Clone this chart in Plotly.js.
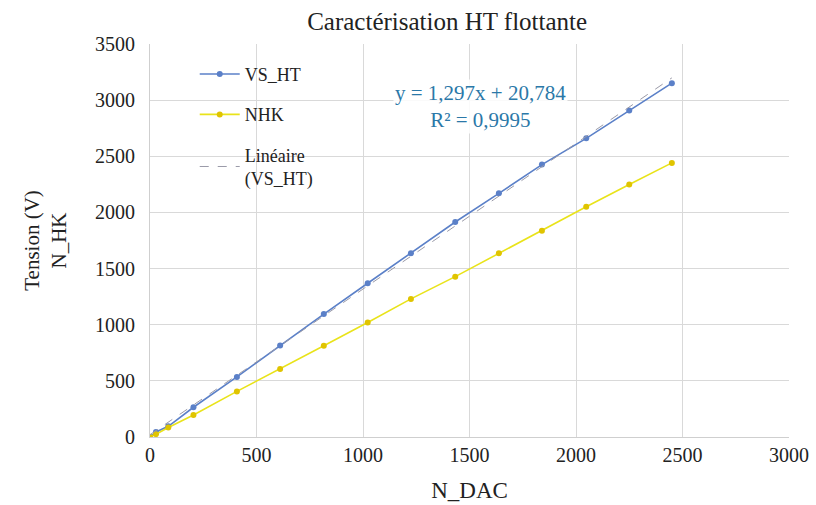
<!DOCTYPE html>
<html>
<head>
<meta charset="utf-8">
<script src="https://cdn.plot.ly/plotly-3.0.1.min.js"></script>
<style>html,body{margin:0;padding:0;background:#fff;}#chart{width:816px;height:505px;}</style>
</head>
<body>
<div id="chart"></div>
<script>
// Data
const nDac   = [0, 28, 86, 204, 408, 611, 816, 1022, 1225, 1433, 1638, 1840, 2048, 2250, 2450];
const vsHT   = [0, 45, 95, 265, 535, 815, 1095, 1369, 1636, 1915, 2170, 2426, 2660, 2908, 3151];
const nhk    = [0, 25, 85, 196, 406, 606, 812, 1019, 1230, 1428, 1636, 1837, 2050, 2249, 2441];
const trendSlope = 1.297;
const trendIntercept = 20.784;
const trendLabel = ["y = 1,297x + 20,784", "R² = 0,9995"];
const xTicks = [0, 500, 1000, 1500, 2000, 2500, 3000];
const yTicks = [0, 500, 1000, 1500, 2000, 2500, 3000, 3500];

const trendX = [nDac[0], nDac[nDac.length - 1]];
const trendY = trendX.map(v => trendSlope * v + trendIntercept);

const serif = "'Liberation Serif', 'Times New Roman', Times, serif";

const traces = [
  {
    x: nDac, y: vsHT, name: "VS_HT", type: "scatter", mode: "lines+markers",
    line: {color: "#5b80c8", width: 1.6},
    marker: {color: "#5b80c8", size: 6},
    legendgroup: "a"
  },
  {
    x: nDac, y: nhk, name: "NHK", type: "scatter", mode: "lines+markers",
    line: {color: "#e9e31a", width: 1.6},
    marker: {color: "#e0c400", size: 6},
    legendgroup: "b"
  },
  {
    x: trendX, y: trendY, name: "Linéaire<br>(VS_HT)", type: "scatter", mode: "lines",
    line: {color: "#9a9aa8", width: 1, dash: "dash"},
    legendgroup: "c"
  }
];

const layout = {
  width: 816, height: 505,
  margin: {l: 150, r: 27, t: 44, b: 68},
  paper_bgcolor: "#fff", plot_bgcolor: "#fff",
  font: {family: serif, color: "#222", size: 18},
  title: {
    text: "Caractérisation HT flottante",
    font: {family: serif, size: 25, color: "#222"},
    x: 0.548, xanchor: "center", y: 0.958, yanchor: "middle"
  },
  xaxis: {
    range: [0, 3000], tickvals: xTicks, ticktext: xTicks.map(String),
    showgrid: true, gridcolor: "#d9d9d9", gridwidth: 1,
    zeroline: false, showline: true, linecolor: "#cfcfcf",
    ticks: "", tickfont: {family: serif, size: 20, color: "#222"},
    title: {text: "N_DAC", font: {family: serif, size: 23, color: "#222"}, standoff: 16}
  },
  yaxis: {
    range: [0, 3500], tickvals: yTicks, ticktext: yTicks.map(String),
    showgrid: true, gridcolor: "#d9d9d9", gridwidth: 1,
    zeroline: false, showline: true, linecolor: "#cfcfcf",
    ticks: "", tickfont: {family: serif, size: 20, color: "#222"},
    ticklabelstandoff: 10,
    title: {text: "Tension (V)<br>N_HK", font: {family: serif, size: 21, color: "#222"}, standoff: 22}
  },
  showlegend: true,
  legend: {
    x: 0.07, y: 0.97, xanchor: "left", yanchor: "top",
    bgcolor: "rgba(255,255,255,0)", borderwidth: 0,
    font: {family: serif, size: 18, color: "#222"},
    traceorder: "grouped", tracegroupgap: 14, itemwidth: 40
  },
  annotations: [
    {
      x: 1553, y: 2945, xref: "x", yref: "y",
      text: trendLabel.join("<br>"), showarrow: false,
      align: "center", font: {family: serif, size: 21, color: "#2b78a8"},
      bgcolor: "rgba(255,255,255,0.85)"
    }
  ]
};

Plotly.newPlot("chart", traces, layout, {displayModeBar: false, staticPlot: true});
</script>
</body>
</html>
